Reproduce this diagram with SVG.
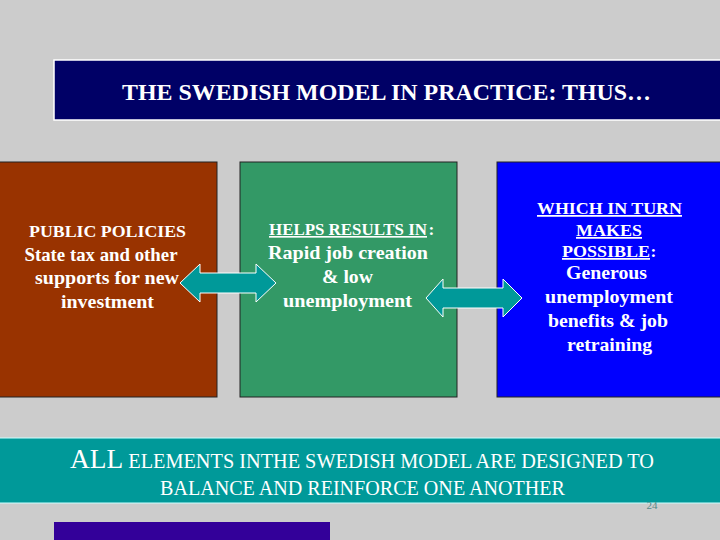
<svg xmlns="http://www.w3.org/2000/svg" width="720" height="540" viewBox="0 0 720 540">
<style>
.t{font-family:"Liberation Serif","Times New Roman",serif;fill:#ffffff;text-anchor:middle}
.s{text-anchor:start}
.b{font-weight:bold}
.h{font-size:17.5px}
.m{font-size:19px}
.u{text-decoration:underline}
.box{stroke:#222222;stroke-width:1}
.arr{fill:#009999;stroke:#ffffff;stroke-width:1}
</style>
<rect x="0" y="0" width="720" height="540" fill="#cccccc"/>
<g id="title">
<rect x="54" y="60" width="670" height="60" fill="#000066" stroke="#ffffff" stroke-width="1.5"/>
<text class="t b" x="386.5" y="100" font-size="24" textLength="529" lengthAdjust="spacingAndGlyphs">THE SWEDISH MODEL IN PRACTICE: THUS…</text>
</g>
<g id="public-policies">
<rect class="box" x="-1" y="162" width="218" height="235" fill="#993300"/>
<text class="t b h" x="107.5" y="237" textLength="157" lengthAdjust="spacingAndGlyphs">PUBLIC POLICIES</text>
<text class="t b m" x="101" y="261" textLength="153" lengthAdjust="spacingAndGlyphs">State tax and other</text>
<text class="t b m" x="107" y="284" textLength="144" lengthAdjust="spacingAndGlyphs">supports for new</text>
<text class="t b m" x="107.5" y="308" textLength="93" lengthAdjust="spacingAndGlyphs">investment</text>
</g>
<g id="results">
<rect class="box" x="240" y="162" width="217" height="235" fill="#339966"/>
<text class="t s b u" x="269" y="235" font-size="16.5" textLength="158" lengthAdjust="spacingAndGlyphs">HELPS RESULTS IN</text>
<text class="t s b h" x="428.5" y="235">:</text>
<text class="t b m" x="348" y="259" textLength="160" lengthAdjust="spacingAndGlyphs">Rapid job creation</text>
<text class="t b m" x="347.5" y="283" textLength="51" lengthAdjust="spacingAndGlyphs">&amp; low</text>
<text class="t b m" x="347.5" y="307" textLength="129" lengthAdjust="spacingAndGlyphs">unemployment</text>
</g>
<g id="possible">
<rect class="box" x="497" y="162" width="226" height="235" fill="#0000ff"/>
<text class="t b h u" x="609.5" y="214" textLength="145" lengthAdjust="spacingAndGlyphs">WHICH IN TURN</text>
<text class="t b h u" x="609" y="236" textLength="66" lengthAdjust="spacingAndGlyphs">MAKES</text>
<text class="t s b h u" x="562" y="257" textLength="88" lengthAdjust="spacingAndGlyphs">POSSIBLE</text>
<text class="t s b h" x="650.5" y="257">:</text>
<text class="t b m" x="606.5" y="279" textLength="81" lengthAdjust="spacingAndGlyphs">Generous</text>
<text class="t b m" x="609" y="303" textLength="128" lengthAdjust="spacingAndGlyphs">unemployment</text>
<text class="t b m" x="608" y="327" textLength="120" lengthAdjust="spacingAndGlyphs">benefits &amp; job</text>
<text class="t b m" x="609.5" y="351" textLength="85" lengthAdjust="spacingAndGlyphs">retraining</text>
</g>
<g id="connectors">
<polygon class="arr" points="180,283 200,264 200,273 256,273 256,264 276,283 256,302 256,293 200,293 200,302"/>
<polygon class="arr" points="426,298 443,279 443,288 503,288 503,279 522,298 503,317 503,308 443,308 443,317"/>
</g>
<g id="banner">
<rect x="-1" y="438" width="723" height="65" fill="#009999" stroke="#ccffff" stroke-width="1"/>
<text class="t" x="362" y="468" font-size="20" textLength="584" lengthAdjust="spacingAndGlyphs"><tspan font-size="27">ALL</tspan> ELEMENTS INTHE  SWEDISH MODEL ARE DESIGNED TO</text>
<text class="t" x="362.5" y="495" font-size="20" textLength="405" lengthAdjust="spacingAndGlyphs">BALANCE AND REINFORCE ONE ANOTHER</text>
</g>
<text x="652" y="509" font-family="Liberation Serif, serif" font-size="11" fill="#558888" text-anchor="middle">24</text>
<rect x="54" y="522" width="276" height="18" fill="#330099"/>
</svg>
